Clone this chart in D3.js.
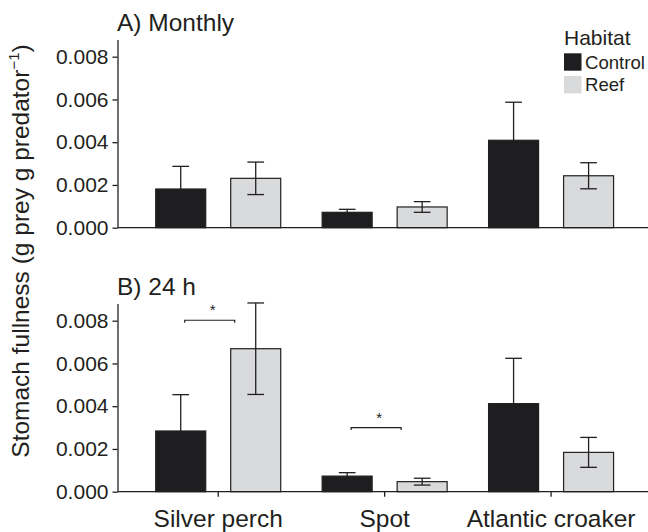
<!DOCTYPE html>
<html>
<head>
<meta charset="utf-8">
<script src="https://cdn.jsdelivr.net/npm/d3@7"></script>
<style>
  html, body { margin: 0; padding: 0; background: #fff; }
  svg { display: block; font-family: "Liberation Sans", Arial, Helvetica, sans-serif; }
</style>
</head>
<body>
<svg id="chart" width="648" height="532"></svg>
<script>
// ---- Data ----
const categories = ["Silver perch", "Spot", "Atlantic croaker"];
const habitats = ["Control", "Reef"];
const yTicks = [0, 0.002, 0.004, 0.006, 0.008];

const monthlyControl   = [0.00181, 0.00072, 0.00409];
const monthlyControlSE = [0.00106, 0.00014, 0.00178];
const monthlyReef      = [0.00231, 0.00097, 0.00243];
const monthlyReefSE    = [0.00076, 0.00025, 0.00061];

const dailyControl   = [0.00284, 0.00073, 0.00412];
const dailyControlSE = [0.00170, 0.00016, 0.00212];
const dailyReef      = [0.00669, 0.00047, 0.00184];
const dailyReefSE    = [0.00214, 0.00016, 0.00070];

const sigCategories = ["Silver perch", "Spot"];
const sigLevels     = [0.00802, 0.00300];

const panelTitles = ["A) Monthly", "B) 24 h"];

// ---- Styles ----
const colControl = "#1e1e21";
const colReef = "#d9dadc";
const ink = "#231f20";

const svg = d3.select("#chart");

const x = d3.scaleBand().domain(categories).range([135, 634.3]).padding(0);
const groupW = 125;
const x1 = d3.scaleBand().domain(habitats).range([0, groupW]).paddingInner(1/3).paddingOuter(0);
const groupStart = c => x(c) + (x.bandwidth() - groupW) / 2;

const axisX = 117.5;

function buildRows(ctrl, ctrlSE, reef, reefSE) {
  const rows = [];
  categories.forEach((c, i) => {
    rows.push({cat: c, hab: "Control", v: ctrl[i], se: ctrlSE[i]});
    rows.push({cat: c, hab: "Reef", v: reef[i], se: reefSE[i]});
  });
  return rows;
}

const panels = [
  {title: panelTitles[0], rows: buildRows(monthlyControl, monthlyControlSE, monthlyReef, monthlyReefSE),
   y: d3.scaleLinear().domain([0, 0.0088]).range([227.7, 39.6]), titleY: 30.5, xTicks: false, sig: false},
  {title: panelTitles[1], rows: buildRows(dailyControl, dailyControlSE, dailyReef, dailyReefSE),
   y: d3.scaleLinear().domain([0, 0.0088]).range([491.7, 303.6]), titleY: 295, xTicks: true, sig: true}
];

panels.forEach(p => {
  const g = svg.append("g");
  const y = p.y;

  // bars
  g.selectAll("rect.bar").data(p.rows).enter().append("rect")
    .attr("class", "bar")
    .attr("x", d => groupStart(d.cat) + x1(d.hab))
    .attr("width", x1.bandwidth())
    .attr("y", d => y(d.v))
    .attr("height", d => y(0) - y(d.v))
    .attr("fill", d => d.hab === "Control" ? colControl : colReef)
    .attr("stroke", ink)
    .attr("stroke-width", 1.2);

  // error bars
  const capW = 16.7;
  p.rows.forEach(d => {
    const cx = groupStart(d.cat) + x1(d.hab) + x1.bandwidth() / 2;
    const top = y(d.v + d.se);
    const low = d.hab === "Reef" ? y(d.v - d.se) : y(d.v);
    g.append("line").attr("x1", cx).attr("x2", cx).attr("y1", top).attr("y2", low)
      .attr("stroke", ink).attr("stroke-width", 1.3);
    g.append("line").attr("x1", cx - capW/2).attr("x2", cx + capW/2).attr("y1", top).attr("y2", top)
      .attr("stroke", ink).attr("stroke-width", 1.3);
    if (d.hab === "Reef") {
      g.append("line").attr("x1", cx - capW/2).attr("x2", cx + capW/2).attr("y1", low).attr("y2", low)
        .attr("stroke", ink).attr("stroke-width", 1.3);
    }
  });

  // y axis
  const yAxis = d3.axisLeft(y).tickValues(yTicks).tickFormat(d3.format(".3f"))
    .tickSize(5).tickSizeOuter(0).tickPadding(4);
  const ya = g.append("g").attr("transform", `translate(${axisX},0)`).call(yAxis);
  ya.select(".domain").attr("stroke", ink).attr("stroke-width", 1.3);
  ya.selectAll(".tick line").attr("stroke", ink).attr("stroke-width", 1.3);
  ya.selectAll(".tick text").attr("font-size", 21).attr("fill", ink)
    .attr("font-family", "Liberation Sans, Arial, sans-serif");

  // baseline (x axis)
  g.append("line").attr("x1", axisX).attr("x2", 648).attr("y1", y(0)).attr("y2", y(0))
    .attr("stroke", ink).attr("stroke-width", 1.3);

  if (p.xTicks) {
    const xa = d3.axisBottom(x).tickSize(5).tickSizeOuter(0).tickPadding(8);
    const xg = g.append("g").attr("transform", `translate(0,${y(0)})`).call(xa);
    xg.select(".domain").remove();
    xg.selectAll(".tick line").attr("stroke", ink).attr("stroke-width", 1.3);
    xg.selectAll(".tick text").attr("font-size", 24.5).attr("fill", ink)
      .attr("font-family", "Liberation Sans, Arial, sans-serif")
      .attr("dy", null).attr("y", 35);
  }

  // title
  g.append("text").attr("x", 117).attr("y", p.titleY).attr("font-size", 24.5).attr("fill", ink)
    .text(p.title);

  // significance brackets
  if (p.sig) {
    sigCategories.forEach((c, i) => {
      const x0 = groupStart(c) + x1("Control") + x1.bandwidth() / 2 + 4;
      const xEnd = groupStart(c) + x1("Reef") + 4;
      const yy = y(sigLevels[i]);
      g.append("path")
        .attr("d", `M${x0},${yy + 2.5}V${yy}H${xEnd}V${yy + 2.5}`)
        .attr("fill", "none").attr("stroke", ink).attr("stroke-width", 1.2);
      g.append("text").attr("x", (x0 + xEnd) / 2 + 3).attr("y", yy - 5)
        .attr("text-anchor", "middle").attr("font-size", 15).attr("fill", ink).text("*");
    });
  }
});

// legend
const lg = svg.append("g");
lg.append("text").attr("x", 564).attr("y", 45).attr("font-size", 21).attr("fill", ink).text("Habitat");
habitats.forEach((h, i) => {
  lg.append("rect").attr("x", 564).attr("y", 53.3 + i * 22.7).attr("width", 17.5).attr("height", 17.4)
    .attr("fill", h === "Control" ? colControl : colReef);
  lg.append("text").attr("x", 585).attr("y", 68.5 + i * 22.3).attr("font-size", 18.6).attr("fill", ink).text(h);
});

// y label
const yl = svg.append("text")
  .attr("transform", "translate(29,251) rotate(-90)")
  .attr("text-anchor", "middle").attr("font-size", 24.5).attr("fill", ink);
yl.append("tspan").text("Stomach fullness (g prey g predator");
yl.append("tspan").attr("font-size", 15).attr("dy", -10).text("\u22121");
yl.append("tspan").attr("dy", 10).text(")");
</script>
</body>
</html>
